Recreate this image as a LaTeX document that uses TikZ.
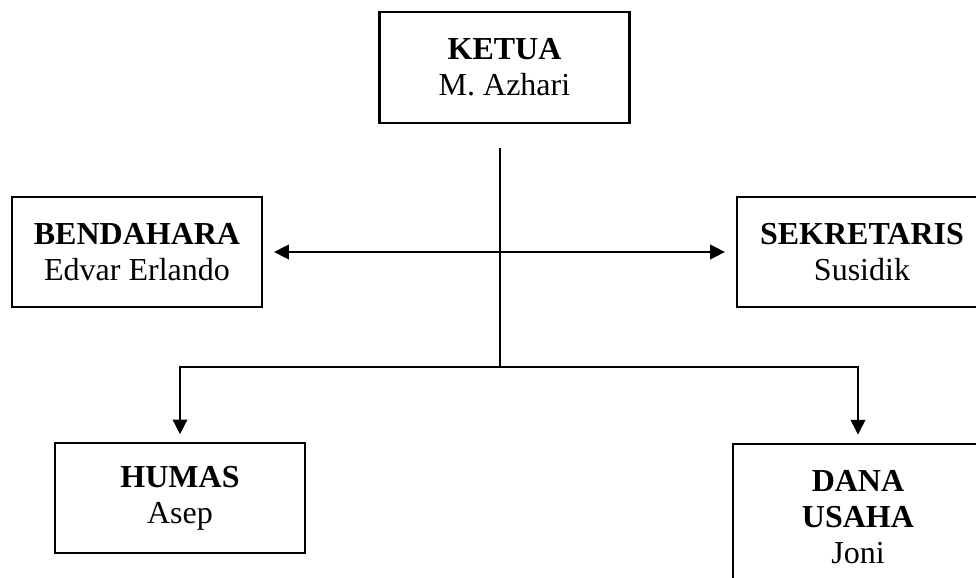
\documentclass[tikz,border=0pt]{standalone}
\usepackage{fontspec}
\setmainfont{Liberation Serif}
\usetikzlibrary{arrows.meta}

\begin{document}
\begin{tikzpicture}[
    x = 0.75pt, y = -0.75pt,
    box/.style = {draw, line width = 1.7pt, align = center,
        minimum width = 187.5pt, minimum height = 83pt, inner sep = 0pt,
        font = \fontsize{24}{27}\selectfont},
    line/.style = {line width = 1.1pt},
    arrow/.style = {line width = 1.1pt, -{Triangle[length = 11pt, width = 11pt]}},
    twoarrow/.style = {line width = 1.1pt,
        {Triangle[length = 11pt, width = 11pt]}-{Triangle[length = 11pt, width = 11pt]}},
    ]

    \useasboundingbox (0,0) rectangle (976,578);
    \clip (0,0) rectangle (976,578);

    %% Drawing the boxes
    \node [box] (ketua) at (504.5,67.5) {\textbf{KETUA} \\ M. Azhari};
    \node [box] (bendahara) at (137,252) {\textbf{BENDAHARA} \\ Edvar Erlando};
    \node [box] (sekretaris) at (862,252) {\textbf{SEKRETARIS} \\ Susidik};
    \node [box] (humas) at (180,498) {\textbf{HUMAS} \\ Asep};
    \node [box, minimum height = 109pt] (dana) at (858,517)
        {\textbf{DANA} \\ \textbf{USAHA} \\ Joni};

    %% Drawing the main line
    \draw
    (500,148)
    coordinate (lineStart)
    (500,367)
    coordinate (lineEnd)
    ;

    \draw [line] (lineStart) -- (lineEnd);

    %% Drawing the arrow between bendahara and sekretaris
    \draw [twoarrow, shorten <= 8.25pt, shorten >= 8.25pt]
    (bendahara) -- (sekretaris);

    %% Drawing the arrows down
    \draw [arrow, shorten >= 5.5pt] (lineEnd) -| (humas.north);
    \draw [arrow, shorten >= 6.5pt] (lineEnd) -| (dana.north);

\end{tikzpicture}
\end{document}
